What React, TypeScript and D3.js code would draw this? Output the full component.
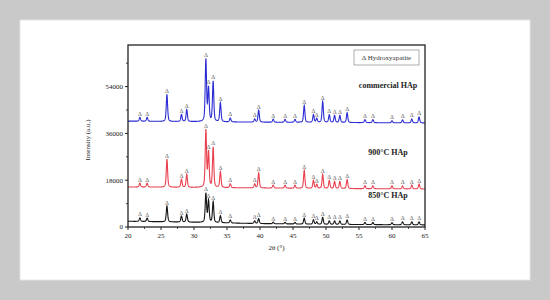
import React from "react";
import * as d3 from "d3";

// Peak positions (2θ, degrees) marked as hydroxyapatite
const PEAK_POS = [21.8, 22.9, 25.9, 28.1, 28.9, 31.8, 32.2, 32.9, 34.0, 35.5, 39.2, 39.8, 42.0, 43.8, 45.3, 46.7, 48.1, 48.6, 49.5, 50.5, 51.3, 52.1, 53.2, 55.9, 57.1, 60.0, 61.6, 63.0, 64.1];

// Peak heights above baseline (counts) for each sample
const COMMERCIAL_H = [1500, 1500, 10400, 2700, 4600, 23800, 12700, 15400, 7300, 1500, 1150, 4600, 1150, 1150, 1150, 6500, 3000, 1500, 8100, 2900, 2700, 2700, 3800, 1150, 1150, 800, 1150, 1500, 2300];
const HAP900_H = [1500, 1500, 10800, 3100, 5000, 21900, 13400, 15400, 6100, 1500, 1500, 5800, 1150, 1150, 1150, 6900, 3100, 1500, 5400, 3100, 2700, 2700, 3500, 1150, 1150, 1150, 1150, 1500, 1900];
const HAP850_H = [1350, 1350, 6100, 2300, 3100, 11100, 8400, 8000, 2700, 1150, 1000, 1900, 600, 600, 600, 2300, 1700, 900, 2700, 1350, 1350, 1350, 1750, 800, 800, 800, 1150, 1150, 1150];

// Baselines (2θ anchors and counts)
const BASE_X = [20, 30, 40, 50, 65];
const COMMERCIAL_BASE = [40700, 40500, 40300, 40200, 40000];
const HAP900_BASE = [15400, 15200, 15000, 14800, 14600];
const HAP850_BASE = [2200, 1800, 1300, 1000, 800];

const SERIES_NAMES = ["commercial HAp", "900°C HAp", "850°C HAp"];
const SERIES_COLORS = ["#2b2bd3", "#e8404e", "#151515"];

const X_TICKS = [20, 25, 30, 35, 40, 45, 50, 55, 60, 65];
const Y_TICKS = [0, 18000, 36000, 54000];

const W = 550, H = 300;
const L = 128, R = 425, T = 45, B = 227;

function profile(x: number, pos: number, h: number) {
  const w = 0.12;
  const d = (x - pos) / w;
  const lor = 1 / (1 + d * d);
  const gau = Math.exp(-Math.LN2 * d * d);
  return h * (0.45 * lor + 0.55 * gau);
}

export default function App() {
  const x = d3.scaleLinear().domain([20, 65]).range([L, R]);
  const y = d3.scaleLinear().domain([0, 70000]).range([B, T]);
  const grid = d3.range(20, 65.0001, 0.02);

  const series = [
    { h: COMMERCIAL_H, base: COMMERCIAL_BASE },
    { h: HAP900_H, base: HAP900_BASE },
    { h: HAP850_H, base: HAP850_BASE },
  ].map((s, i) => {
    const baseScale = d3.scaleLinear().domain(BASE_X).range(s.base);
    const pts = grid.map((g) => {
      let v = baseScale(g);
      PEAK_POS.forEach((p, k) => { v += profile(g, p, s.h[k]); });
      return [g, v] as [number, number];
    });
    const tops = PEAK_POS.map((p, k) => {
      let v = baseScale(p);
      PEAK_POS.forEach((q, j) => { v += profile(p, q, s.h[j]); });
      return v;
    });
    return { pts, tops, color: SERIES_COLORS[i], name: SERIES_NAMES[i] };
  });

  const line = d3.line<[number, number]>().x((d) => x(d[0])).y((d) => y(d[1]));
  const minorX = d3.range(22.5, 65, 5);
  const minorY = [9000, 27000, 45000, 63000];
  const labelY = [88, 155, 198];
  const font = "'Liberation Serif', 'DejaVu Serif', serif";

  return (
    <svg width={W} height={H} style={{ position: "absolute", left: 0, top: 0 }} fontFamily={font}>
      <rect x={0} y={0} width={W} height={H} fill="#c9c9c9" />
      <rect x={20} y={20} width={510} height={260} fill="#ffffff" stroke="#e6e6e6" strokeWidth={1} />
      <defs>
        <clipPath id="plotclip"><rect x={L} y={T} width={R - L} height={B - T} /></clipPath>
      </defs>
      <g clipPath="url(#plotclip)">
        {series.map((s, i) => (
          <path key={i} d={line(s.pts) || ""} fill="none" stroke={s.color} strokeWidth={1.1} />
        ))}
      </g>
      {series.map((s, i) =>
        PEAK_POS.map((p, k) => (
          <text key={i + "-" + k} x={x(p)} y={y(s.tops[k]) - 1.5} fontSize={6} textAnchor="middle" fill="#555">Δ</text>
        ))
      )}
      {series.map((s, i) => (
        <text key={"n" + i} x={388} y={labelY[i]} fontSize={8} fontWeight="bold" textAnchor="middle" fill="#222">{s.name}</text>
      ))}
      {/* legend */}
      <rect x={354} y={50} width={65} height={15} fill="#fff" stroke="#999" strokeWidth={0.8} />
      <text x={386.5} y={60} fontSize={7} textAnchor="middle" fill="#333">Δ Hydroxyapatite</text>
      {/* frame */}
      <rect x={L} y={T} width={R - L} height={B - T} fill="none" stroke="#222" strokeWidth={1.3} />
      {/* x ticks */}
      {X_TICKS.map((t) => (
        <g key={"xt" + t}>
          <line x1={x(t)} x2={x(t)} y1={B} y2={B + 3} stroke="#222" strokeWidth={1} />
          <text x={x(t)} y={B + 11} fontSize={7} textAnchor="middle" fill="#222">{t}</text>
        </g>
      ))}
      {minorX.map((t) => (
        <line key={"xm" + t} x1={x(t)} x2={x(t)} y1={B} y2={B + 2} stroke="#222" strokeWidth={0.8} />
      ))}
      {Y_TICKS.map((t) => (
        <g key={"yt" + t}>
          <line x1={L - 3} x2={L} y1={y(t)} y2={y(t)} stroke="#222" strokeWidth={1} />
          <text x={L - 5} y={y(t) + 2.3} fontSize={7} textAnchor="end" fill="#222">{t}</text>
        </g>
      ))}
      {minorY.map((t) => (
        <line key={"ym" + t} x1={L - 2} x2={L} y1={y(t)} y2={y(t)} stroke="#222" strokeWidth={0.8} />
      ))}
      <text x={(L + R) / 2} y={250} fontSize={7} textAnchor="middle" fill="#222">2θ (°)</text>
      <text transform={`translate(90,${(T + B) / 2 + 4}) rotate(-90)`} fontSize={7} textAnchor="middle" fill="#222">Intensity (a.u.)</text>
    </svg>
  );
}
